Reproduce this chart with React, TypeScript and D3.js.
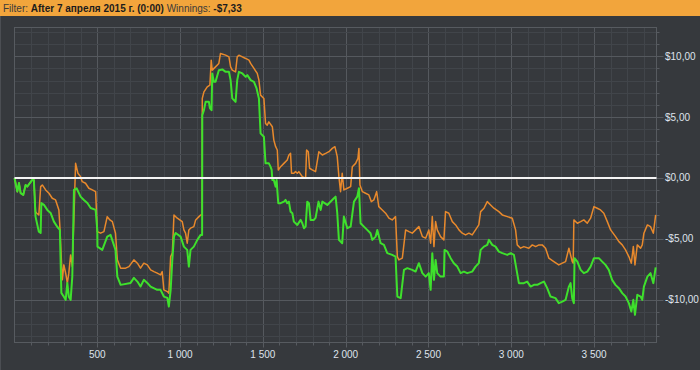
import React from 'react';
import * as d3 from 'd3';

const W = 700;
const H = 370;

const headerParts = [
  { text: 'Filter: ', bold: false },
  { text: 'After 7 апреля 2015 г. (0:00) ', bold: true },
  { text: 'Winnings: ', bold: false },
  { text: '-$7,33', bold: true },
];

const xTicks = [500, 1000, 1500, 2000, 2500, 3000, 3500];
const xTickLabels = ['500', '1 000', '1 500', '2 000', '2 500', '3 000', '3 500'];
const yTicks = [10, 5, 0, -5, -10];
const yTickLabels = ['$10,00', '$5,00', '$0,00', '-$5,00', '-$10,00'];

const xDomain = [0, 3877];
const yDomain = [-13.5, 12.35];

// Green series (net winnings) — trade number / dollars
const greenTrade = [
  0, 17, 27, 37, 53, 67, 77, 107, 117, 127, 147, 158, 162, 178, 198, 218, 238, 258, 274, 283,
  298, 309, 319, 328, 339, 349, 359, 375, 399, 419, 440, 460, 490, 500, 501, 530, 560, 580, 610, 621,
  641, 701, 721, 742, 761, 781, 802, 822, 862, 882, 902, 923, 932, 943, 953, 963, 973, 1003, 1023, 1043,
  1053, 1063, 1083, 1104, 1124, 1133, 1134, 1144, 1154, 1174, 1180, 1190, 1194, 1204, 1214, 1234, 1255, 1275, 1295, 1305,
  1315, 1335, 1345, 1355, 1376, 1396, 1406, 1426, 1446, 1462, 1476, 1486, 1506, 1516, 1536, 1546, 1553, 1557, 1566, 1577,
  1583, 1587, 1593, 1607, 1627, 1637, 1647, 1657, 1667, 1678, 1687, 1708, 1728, 1738, 1748, 1758, 1768, 1778, 1788, 1808,
  1818, 1836, 1849, 1859, 1889, 1929, 1939, 1949, 1959, 1979, 1989, 2010, 2030, 2050, 2070, 2080, 2090, 2110, 2130, 2150,
  2161, 2181, 2191, 2211, 2231, 2251, 2281, 2301, 2312, 2332, 2352, 2372, 2402, 2422, 2442, 2463, 2483, 2502, 2513, 2523,
  2533, 2543, 2553, 2573, 2593, 2597, 2614, 2634, 2653, 2674, 2694, 2714, 2734, 2764, 2784, 2804, 2815, 2835, 2855, 2865,
  2885, 2905, 2925, 2946, 2976, 2996, 3016, 3032, 3046, 3076, 3096, 3117, 3137, 3157, 3177, 3197, 3217, 3237, 3267, 3287,
  3308, 3328, 3348, 3358, 3368, 3378, 3382, 3399, 3419, 3438, 3459, 3479, 3499, 3529, 3549, 3569, 3589, 3609, 3629, 3650,
  3670, 3690, 3710, 3725, 3737, 3747, 3761, 3781, 3791, 3801, 3822, 3841, 3858, 3872,
];
const greenValue = [
  0, -1.12, -0.41, -1.24, -1.39, -0.57, -0.71, -0.16, -0.16, -3.17, -4.41, -4.51, -2.06, -2.21, -2.62, -2.87, -3.58, -4.0, -4.26, -9.43,
  -9.74, -10.0, -8.61, -9.74, -10.0, -8.09, -0.98, -0.84, -1.53, -1.8, -2.05, -2.46, -2.62, -4.26, -5.63, -5.9, -4.81, -4.67, -5.9, -8.09,
  -8.77, -8.61, -8.2, -8.5, -8.91, -8.36, -8.61, -8.91, -9.18, -9.18, -9.73, -9.84, -10.55, -9.18, -6.72, -4.81, -4.51, -4.81, -5.63, -5.9,
  -7.27, -5.9, -5.63, -5.08, -4.67, -4.67, 5.16, 5.57, 6.25, 6.25, 5.74, 5.57, 8.58, 7.89, 7.89, 8.85, 8.91, 8.71, 8.71, 8.03,
  6.53, 6.25, 8.03, 8.71, 8.58, 8.3, 8.44, 8.03, 7.89, 7.35, 6.53, 3.66, 3.39, 1.2, 1.2, 0.93, 0.66, -0.16, -0.16, -0.71,
  -0.16, -0.98, -2.07, -2.07, -1.94, -1.8, -2.07, -1.94, -2.76, -2.89, -3.58, -3.85, -3.44, -3.71, -4.12, -3.99, -1.94, -2.07, -3.44, -3.44,
  -3.28, -1.94, -2.62, -1.94, -2.21, -1.66, -1.53, -2.87, -5.08, -5.35, -3.17, -4.12, -3.99, -1.94, -1.53, -0.84, -3.71, -3.99, -4.26, -4.53,
  -5.08, -4.81, -4.26, -5.35, -5.49, -6.17, -6.31, -6.45, -9.73, -9.86, -7.54, -7.4, -7.54, -7.68, -6.99, -7.81, -8.09, -7.81, -9.18, -6.17,
  -8.36, -6.72, -7.81, -8.09, -8.09, -5.9, -6.04, -6.58, -6.99, -7.27, -7.81, -7.68, -7.81, -7.68, -7.27, -6.99, -5.9, -5.63, -5.49, -5.08,
  -5.49, -5.63, -6.04, -6.17, -6.31, -6.17, -6.31, -7.54, -8.63, -8.63, -8.5, -8.91, -8.77, -8.77, -8.63, -8.5, -9.04, -9.73, -9.86, -10.27,
  -10.14, -10.0, -8.91, -8.63, -9.86, -10.27, -6.58, -6.86, -7.54, -7.81, -7.68, -7.27, -6.58, -6.58, -6.86, -7.13, -7.54, -8.36, -8.77, -9.04,
  -9.45, -9.73, -10.27, -10.96, -10.0, -11.23, -9.59, -9.73, -10.0, -8.91, -8.09, -7.81, -8.63, -7.33,
];

// Orange series (gross winnings) — trade number / dollars
const orangeTrade = [
  0, 17, 27, 37, 53, 67, 77, 107, 117, 127, 133, 147, 158, 168, 188, 208, 228, 248, 268, 274,
  284, 289, 298, 309, 319, 328, 339, 349, 359, 369, 383, 399, 409, 429, 449, 470, 490, 500, 520, 540,
  560, 576, 591, 610, 621, 641, 671, 691, 721, 742, 761, 781, 802, 822, 842, 862, 882, 892, 902, 923,
  932, 943, 953, 963, 983, 1013, 1023, 1033, 1043, 1053, 1063, 1083, 1094, 1114, 1124, 1133, 1134, 1144, 1164, 1180,
  1188, 1194, 1214, 1234, 1244, 1275, 1295, 1305, 1315, 1335, 1345, 1355, 1376, 1396, 1416, 1426, 1446, 1466, 1476, 1486,
  1506, 1516, 1526, 1536, 1557, 1566, 1577, 1587, 1593, 1607, 1627, 1647, 1657, 1667, 1673, 1687, 1697, 1708, 1717, 1738,
  1758, 1764, 1774, 1782, 1798, 1818, 1838, 1859, 1879, 1899, 1919, 1935, 1949, 1959, 1969, 1979, 1989, 2010, 2030, 2040,
  2060, 2074, 2080, 2086, 2101, 2120, 2140, 2155, 2170, 2187, 2200, 2221, 2241, 2261, 2281, 2301, 2312, 2321, 2342, 2362,
  2382, 2402, 2422, 2442, 2463, 2483, 2502, 2513, 2523, 2533, 2543, 2553, 2573, 2593, 2603, 2623, 2644, 2664, 2684, 2704,
  2724, 2744, 2764, 2784, 2804, 2815, 2835, 2855, 2875, 2895, 2925, 2946, 2976, 3006, 3026, 3036, 3056, 3076, 3106, 3127,
  3147, 3167, 3187, 3207, 3227, 3257, 3287, 3308, 3328, 3348, 3368, 3374, 3378, 3399, 3419, 3438, 3459, 3479, 3499, 3519,
  3539, 3559, 3580, 3600, 3630, 3650, 3670, 3690, 3710, 3725, 3737, 3747, 3761, 3781, 3791, 3801, 3822, 3841, 3858, 3872,
];
const orangeValue = [
  0, -1.12, -0.41, -1.24, -1.39, -0.57, -0.71, -0.16, -0.16, -2.76, -2.87, -3.03, -0.71, -0.57, -0.98, -1.25, -1.66, -1.8, -2.62, -3.99,
  -6.99, -8.36, -7.13, -7.81, -8.63, -7.81, -6.31, -7.27, -3.17, 1.2, 0.39, 0.11, -0.3, -0.43, -0.84, -0.98, -1.12, -4.4, -4.53, -4.4,
  -3.17, -3.44, -3.58, -4.53, -6.72, -7.4, -7.4, -7.27, -6.72, -6.99, -7.4, -6.99, -7.13, -7.54, -7.68, -7.81, -7.95, -7.68, -9.18, -9.32,
  -9.45, -6.45, -6.17, -3.03, -3.3, -3.58, -4.26, -4.53, -5.35, -4.26, -4.12, -3.99, -3.44, -3.17, -3.03, -3.03, 6.53, 7.07, 7.48, 7.62,
  9.67, 8.85, 9.12, 9.4, 10.22, 10.08, 9.94, 9.12, 8.85, 8.71, 9.94, 10.08, 9.94, 9.81, 9.67, 9.4, 8.99, 8.58, 8.03, 6.8,
  6.53, 4.48, 4.34, 4.61, 4.21, 3.11, 2.57, 2.3, 0.66, 0.93, 1.2, 1.48, 1.89, 2.02, 0.39, 0.39, 0.52, 0.39, 0.52, 0.11,
  -0.02, 2.3, 2.16, 0.8, 0.66, 0.52, 2.16, 1.89, 2.02, 2.16, 2.43, 2.57, 1.75, 0.11, -1.12, 0.39, -0.98, -0.84, -0.71, 0.93,
  1.2, 1.61, 2.43, -0.57, -1.12, -1.25, -1.39, -1.94, -1.8, -1.12, -2.35, -2.62, -2.89, -3.3, -3.44, -3.17, -6.45, -6.72, -6.58, -4.26,
  -4.4, -4.53, -4.26, -3.99, -4.81, -4.94, -4.26, -5.35, -3.17, -5.63, -3.58, -4.26, -4.81, -5.08, -2.76, -2.89, -3.58, -3.85, -4.26, -4.53,
  -4.67, -4.53, -4.67, -4.26, -3.85, -2.76, -2.48, -1.94, -2.21, -2.48, -2.76, -3.03, -3.17, -3.3, -4.26, -5.49, -5.76, -5.63, -5.76, -5.49,
  -5.63, -5.49, -5.49, -5.76, -6.58, -6.86, -7.13, -6.99, -6.86, -5.76, -6.86, -6.99, -3.44, -3.71, -3.58, -3.44, -3.71, -3.3, -2.35, -2.48,
  -2.62, -2.89, -3.58, -4.26, -4.81, -5.22, -5.49, -5.9, -6.45, -6.99, -5.63, -7.13, -5.49, -5.76, -5.49, -4.53, -3.85, -3.99, -4.53, -3.03,
];

const COLORS = {
  bg: '#36393d',
  header: '#f2a53c',
  headerText: '#2a2a2a',
  minorGrid: '#41454a',
  majorGrid: '#55595e',
  frame: '#575b60',
  label: '#dfe3ec',
  orange: '#e8892c',
  green: '#3ee02c',
  zero: '#f4f4f4',
};

export default function App() {
  const left = 14.5;
  const right = 656.5;
  const top = 27.5;
  const bottom = 342.5;

  const x = d3.scaleLinear().domain(xDomain).range([left, right]);
  const y = d3.scaleLinear().domain(yDomain).range([bottom, top]);

  const minorX = d3.range(100, xDomain[1], 100);
  const minorY = d3.range(Math.ceil(yDomain[0]), Math.floor(yDomain[1]) + 1, 1);

  const makeLine = (xs: number[], ys: number[]) =>
    d3
      .line<number>()
      .x((i) => x(xs[i]))
      .y((i) => y(ys[i]))(d3.range(xs.length)) || '';

  const greenPath = makeLine(greenTrade, greenValue);
  const orangePath = makeLine(orangeTrade, orangeValue);

  return (
    <svg
      width={W}
      height={H}
      style={{ position: 'fixed', left: 0, top: 0, display: 'block' }}
      xmlns="http://www.w3.org/2000/svg"
    >
      <rect x={0} y={0} width={W} height={H} fill={COLORS.bg} />
      <line x1={0.5} x2={0.5} y1={0} y2={H} stroke="#4b4e53" />
      <rect x={0} y={0} width={W} height={16} fill={COLORS.header} />
      <text
        x={3}
        y={12}
        fontFamily="'Liberation Sans', Arial, sans-serif"
        fontSize={10}
        fill={COLORS.headerText}
      >
        {headerParts.map((p, i) => (
          <tspan key={i} fontWeight={p.bold ? 'bold' : 'normal'} fill={p.bold ? '#1c1c1c' : '#3a3a3a'}>
            {p.text}
          </tspan>
        ))}
      </text>

      {/* minor grid */}
      {minorX.map((v) => (
        <line key={'mx' + v} x1={Math.round(x(v)) + 0.5} x2={Math.round(x(v)) + 0.5} y1={top} y2={bottom} stroke={v % 500 === 0 ? COLORS.majorGrid : COLORS.minorGrid} />
      ))}
      {minorY.map((v) => (
        <line key={'my' + v} x1={left} x2={right} y1={Math.round(y(v)) + 0.5} y2={Math.round(y(v)) + 0.5} stroke={v % 5 === 0 ? COLORS.majorGrid : COLORS.minorGrid} />
      ))}

      {/* frame */}
      <rect x={left} y={top} width={right - left} height={bottom - top} fill="none" stroke={COLORS.frame} />

      {/* bottom ticks */}
      {minorX.map((v) => (
        <line key={'bt' + v} x1={Math.round(x(v)) + 0.5} x2={Math.round(x(v)) + 0.5} y1={bottom} y2={bottom + (v % 500 === 0 ? 5 : 3)} stroke={COLORS.frame} />
      ))}
      {/* right ticks */}
      {minorY.map((v) => (
        <line key={'rt' + v} x1={right} x2={right + (v % 5 === 0 ? 7 : 3)} y1={Math.round(y(v)) + 0.5} y2={Math.round(y(v)) + 0.5} stroke={COLORS.frame} />
      ))}

      {/* lines */}
      <path d={orangePath} fill="none" stroke={COLORS.orange} strokeWidth={1.5} strokeLinejoin="round" />
      <path d={greenPath} fill="none" stroke={COLORS.green} strokeWidth={2} strokeLinejoin="round" />

      {/* zero line */}
      <line x1={left} x2={right} y1={y(0)} y2={y(0)} stroke={COLORS.zero} strokeWidth={2} />

      {/* labels */}
      {xTicks.map((v, i) => (
        <text key={'xl' + v} x={x(v)} y={358} textAnchor="middle" fontFamily="'Liberation Sans', Arial, sans-serif" fontSize={10} fill={COLORS.label}>
          {xTickLabels[i]}
        </text>
      ))}
      {yTicks.map((v, i) => (
        <text key={'yl' + v} x={665} y={y(v) + 3.5} textAnchor="start" fontFamily="'Liberation Sans', Arial, sans-serif" fontSize={10} fill={COLORS.label}>
          {yTickLabels[i]}
        </text>
      ))}
    </svg>
  );
}
